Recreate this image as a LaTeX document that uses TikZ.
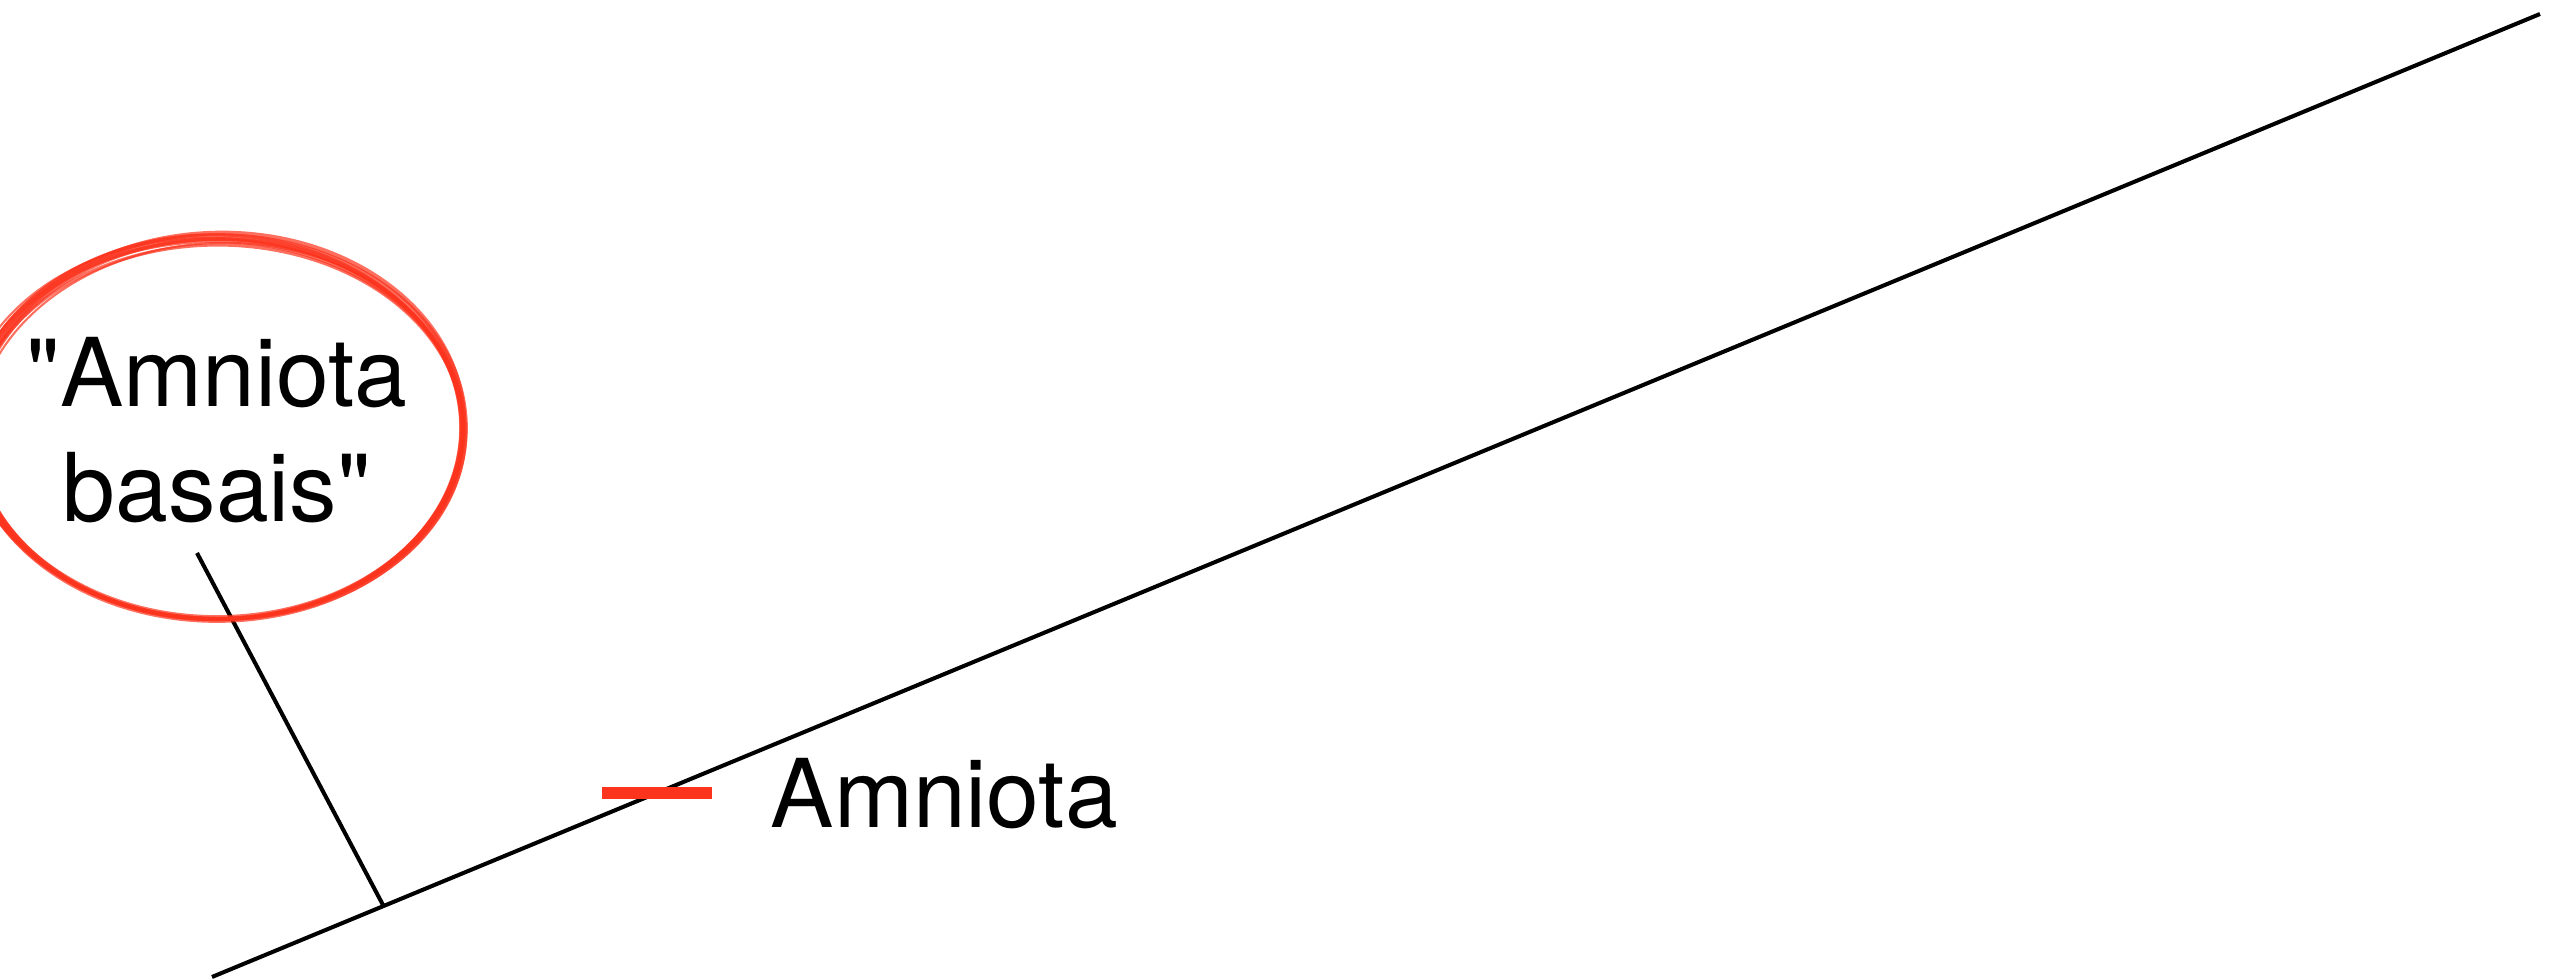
\documentclass[tikz,border=0pt]{standalone}
\usepackage{fontspec}
\setmainfont{TeX Gyre Heros}
\usetikzlibrary{positioning, calc}
\definecolor{marker}{RGB}{252,51,29}

\begin{document}
\begin{tikzpicture}[x=0.01cm, y=-0.01cm,
  branch/.style={draw=black, line width=1.15pt},
  taxon/.style={font=\fontsize{27}{32.7}\selectfont, inner sep=0pt},
  stroke/.style={draw=marker, opacity=0.7},
  tick/.style={draw=marker, line width=3.4pt}]
  \useasboundingbox (0,0) rectangle (2562,980);
  % tree
  \coordinate (root) at (212,977);
  \coordinate (tip) at (2540,14);
  \coordinate (fork) at (383,905);
  \coordinate (basal) at (197,553);
  \draw[branch] (root) -- (tip);
  \draw[branch] (fork) -- (basal);
  % synapomorphy mark
  \coordinate (t1) at (602,793);
  \coordinate (t2) at (712,793);
  \draw[tick] (t1) -- (t2);
  \node[taxon, anchor=base west] (amniota) at (770,828) {Amniota};
  \node[taxon, align=center] (basais) at (217,430)
    {\textquotedbl Amniota\\basais\textquotedbl};
  % hand-drawn ring
  \foreach \dx/\dy/\a/\b/\r/\w in {0/0/247/191/0/2.2, 2/-2/245/193/1.5/1.3,
      -1/2/249/189/-1.2/1.2, 1/1/243/190/0.8/1.0, -2/-1/246/192/-0.6/0.8,
      3/3/244/188/2.2/0.6, -3/0/250/190/-2/0.6, 0/4/246/187/0.3/0.9}
    \draw[stroke, line width=\w pt, rotate around={\r:(217+\dx,428+\dy)}]
      (217+\dx,428+\dy) ellipse[x radius=\a, y radius=\b];
\end{tikzpicture}
\end{document}
